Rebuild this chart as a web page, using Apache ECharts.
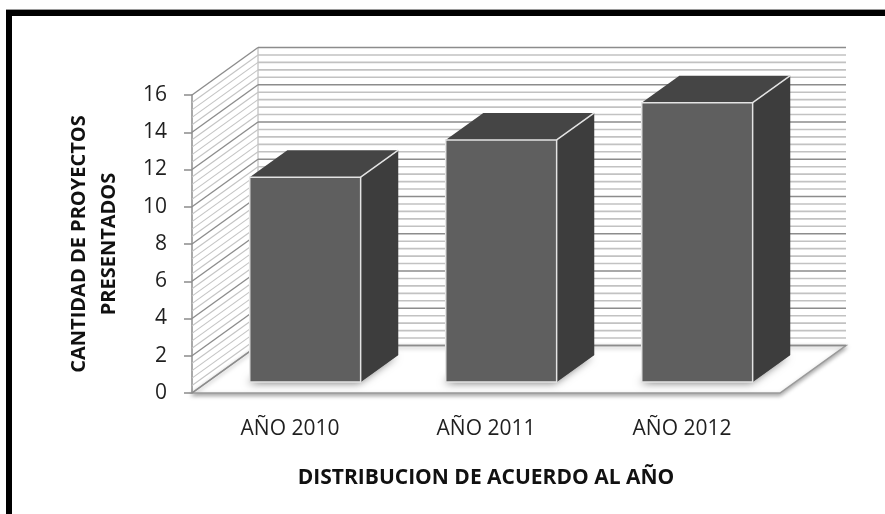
<!DOCTYPE html>
<html>
<head>
<meta charset="utf-8">
<script src="https://cdn.jsdelivr.net/npm/echarts@6/dist/echarts.min.js"></script>
<style>
  html, body { margin: 0; padding: 0; background: #ffffff; }
  #chart { width: 885px; height: 514px; }
</style>
</head>
<body>
<div id="chart"></div>
<script>
// ---- data ----
const categories = ['AÑO 2010', 'AÑO 2011', 'AÑO 2012'];
const projectCounts = [11, 13, 15];
const yTickValues = [0, 2, 4, 6, 8, 10, 12, 14, 16];
const xAxisTitle = 'DISTRIBUCION DE ACUERDO AL AÑO';
const yAxisTitle = 'CANTIDAD DE PROYECTOS\nPRESENTADOS';

// ---- styling / projection constants ----
const DX = 66, DY = -47.5;          // oblique depth offset of the 3D box
const BAR_FRONT = 0.23, BAR_BACK = 0.80; // bar depth span (fraction of floor depth)
const BAR_WIDTH = 0.566;            // bar width as fraction of category band
const MINOR_PER_MAJOR = 5;
const FONT = "'Open Sans', 'Noto Sans', sans-serif";

const yMin = yTickValues[0];
const yMax = yTickValues[yTickValues.length - 1];
const yStep = yTickValues[1] - yTickValues[0];

function renderWalls(params, api) {
  const cs = params.coordSys;
  const x0 = cs.x, x1 = cs.x + cs.width;
  const y0 = api.coord([0, yMin])[1];
  const yT = api.coord([0, yMax])[1];
  const children = [];
  // floor
  children.push({
    type: 'polygon',
    shape: { points: [[x0, y0], [x1, y0], [x1 + DX, y0 + DY], [x0 + DX, y0 + DY]] },
    style: { fill: '#ffffff', stroke: '#9a9a9a', lineWidth: 1.5,
             shadowBlur: 4, shadowColor: 'rgba(0,0,0,0.35)', shadowOffsetY: 2 }
  });
  // back-wall corner
  children.push({
    type: 'line',
    shape: { x1: x0 + DX, y1: yT + DY, x2: x0 + DX, y2: y0 + DY },
    style: { stroke: '#b0b0b0', lineWidth: 1 }
  });
  const nLines = Math.round((yMax - yMin) / yStep) * MINOR_PER_MAJOR;
  for (let i = 0; i <= nLines; i++) {
    const v = yMin + i * yStep / MINOR_PER_MAJOR;
    const y = api.coord([0, v])[1];
    const major = i % MINOR_PER_MAJOR === 0;
    // back wall
    children.push({
      type: 'line',
      shape: { x1: x0 + DX, y1: y + DY, x2: x1 + DX, y2: y + DY },
      style: { stroke: major ? '#8c8c8c' : '#c2c2c2', lineWidth: 1.6 }
    });
    // side wall
    children.push({
      type: 'line',
      shape: { x1: x0, y1: y, x2: x0 + DX, y2: y + DY },
      style: { stroke: major ? '#8c8c8c' : '#c4c4c4', lineWidth: major ? 1.4 : 1.1 }
    });
  }
  return { type: 'group', children: children };
}

function renderBar(params, api) {
  const idx = api.value(0);
  const val = api.value(1);
  const base = api.coord([idx, yMin]);
  const top = api.coord([idx, val]);
  const band = api.size([1, 0])[0];
  const w = band * BAR_WIDTH;
  const lx = base[0] - w / 2, rx = base[0] + w / 2;
  const fdx = BAR_FRONT * DX, fdy = BAR_FRONT * DY;
  const bdx = BAR_BACK * DX, bdy = BAR_BACK * DY;
  const FLB = [lx + fdx, base[1] + fdy], FRB = [rx + fdx, base[1] + fdy];
  const FLT = [lx + fdx, top[1] + fdy], FRT = [rx + fdx, top[1] + fdy];
  const BLB = [lx + bdx, base[1] + bdy], BRB = [rx + bdx, base[1] + bdy];
  const BLT = [lx + bdx, top[1] + bdy], BRT = [rx + bdx, top[1] + bdy];
  return {
    type: 'group',
    children: [
      { type: 'polygon', shape: { points: [FLB, FRB, BRB, BLB] },
        style: { fill: '#666', shadowBlur: 9, shadowColor: 'rgba(0,0,0,0.55)', shadowOffsetX: -2, shadowOffsetY: 1 } },
      { type: 'polygon', shape: { points: [FRT, FRB, BRB, BRT] },
        style: { fill: '#3d3d3d' } },
      { type: 'polygon', shape: { points: [FLT, FRT, BRT, BLT] },
        style: { fill: '#454545' } },
      { type: 'polygon', shape: { points: [FLT, FRT, FRB, FLB] },
        style: { fill: '#5f5f5f', stroke: '#e4e4e4', lineWidth: 1.5 } },
      { type: 'line', shape: { x1: FRT[0], y1: FRT[1], x2: BRT[0], y2: BRT[1] },
        style: { stroke: '#e4e4e4', lineWidth: 1.5 } }
    ]
  };
}

const chart = echarts.init(document.getElementById('chart'), null, { renderer: 'canvas' });
chart.setOption({
  animation: false,
  backgroundColor: '#ffffff',
  grid: { left: 192, top: 95, width: 588, height: 298, containLabel: false },
  xAxis: {
    type: 'category',
    data: categories,
    boundaryGap: true,
    axisLine: { show: false },
    axisTick: { show: false },
    splitLine: { show: false },
    axisLabel: { margin: 26, fontSize: 21, color: '#1f1f1f', fontFamily: FONT },
    name: xAxisTitle,
    nameLocation: 'middle',
    nameGap: 72,
    nameTextStyle: { fontSize: 21, fontWeight: 'bold', color: '#111111', fontFamily: FONT, lineHeight: 26 }
  },
  yAxis: {
    type: 'value',
    min: yMin, max: yMax, interval: yStep,
    axisLine: { show: true, lineStyle: { color: '#8c8c8c', width: 1.5 } },
    axisTick: { show: true, length: 8, lineStyle: { color: '#8c8c8c', width: 1.5 } },
    splitLine: { show: false },
    axisLabel: { margin: 25, fontSize: 21, color: '#1f1f1f', fontFamily: FONT },
    name: yAxisTitle,
    nameLocation: 'middle',
    nameRotate: 90,
    nameGap: 68,
    nameTextStyle: { fontSize: 20, fontWeight: 'bold', color: '#111111', fontFamily: FONT, lineHeight: 30 }
  },
  graphic: [
    { type: 'rect', shape: { x: 6, y: 9, width: 879, height: 1 }, style: { fill: '#9a9a9a' }, z: 100 },
    { type: 'rect', shape: { x: 6, y: 10, width: 879, height: 6 }, style: { fill: '#000000' }, z: 100 },
    { type: 'rect', shape: { x: 6, y: 10, width: 6, height: 504 }, style: { fill: '#000000' }, z: 100 }
  ],
  series: [
    {
      type: 'custom',
      name: 'walls',
      coordinateSystem: 'cartesian2d',
      renderItem: renderWalls,
      data: [[0, yMin]],
      clip: false,
      silent: true,
      z: 1
    },
    {
      type: 'custom',
      name: 'Proyectos',
      coordinateSystem: 'cartesian2d',
      renderItem: renderBar,
      encode: { x: 0, y: 1 },
      data: projectCounts.map((v, i) => [i, v]),
      clip: false,
      z: 2
    }
  ]
});
</script>
</body>
</html>
